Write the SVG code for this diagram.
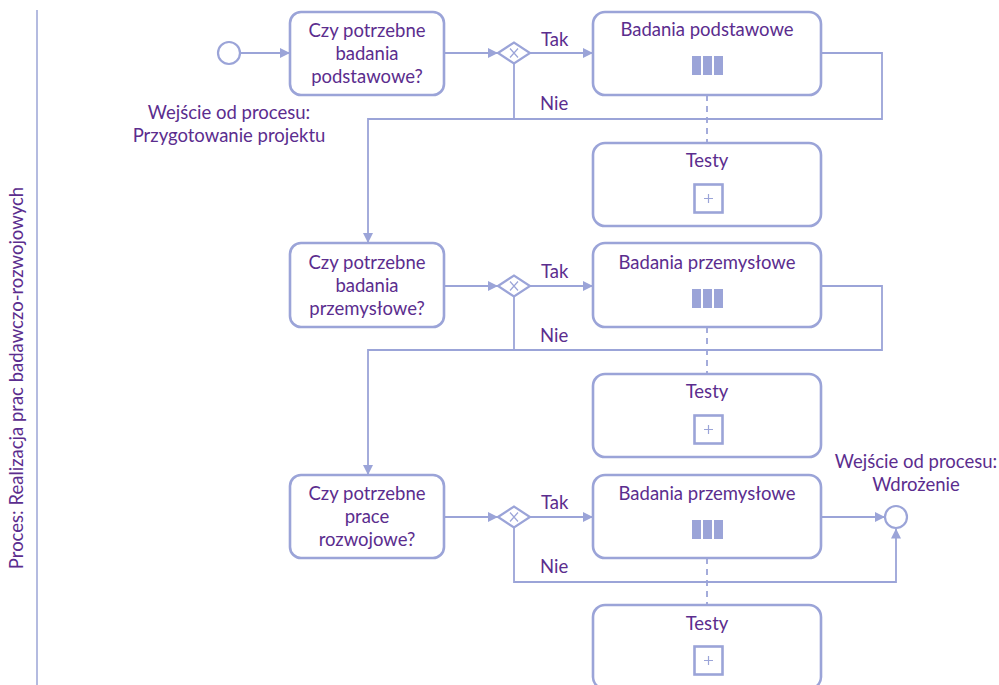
<svg xmlns="http://www.w3.org/2000/svg" width="999" height="685" viewBox="0 0 999 685">
  <defs>
    <marker id="arrow" viewBox="0 0 10 10" refX="10" refY="5" markerWidth="10" markerHeight="10" markerUnits="userSpaceOnUse" orient="auto">
      <path d="M0,0 L10,5 L0,10 Z" fill="#9ba4d8"/>
    </marker>
    <style>
      text { font-family: Lato, "Open Sans", "Liberation Sans", sans-serif; font-size: 18.5px; fill: #5b2d8e; }
      .c { text-anchor: middle; }
      .box { fill: #ffffff; stroke: #9ba4d8; stroke-width: 2.6; }
      .flow { fill: none; stroke: #9ba4d8; stroke-width: 1.8; }
      .assoc { fill: none; stroke: #9ba4d8; stroke-width: 1.8; stroke-dasharray: 6 5; }
      .ev { fill: #ffffff; stroke: #9ba4d8; stroke-width: 2.2; }
      .gw { fill: #ffffff; stroke: #9ba4d8; stroke-width: 2.2; }
      .mark { fill: none; stroke: #9ba4d8; stroke-width: 1.2; }
      .bar { fill: #9ba4d8; }
      .lane { stroke: #b4bbe0; stroke-width: 2; }
    </style>
  </defs>
  <rect width="999" height="685" fill="#ffffff"/>

  <!-- pool lane -->
  <g id="lane">
    <line class="lane" x1="37" y1="10" x2="37" y2="685"/>
    <text class="c" transform="translate(23,378) rotate(-90)">Proces: Realizacja prac badawczo-rozwojowych</text>
  </g>

  <!-- connectors -->
  <g id="connectors">
    <!-- row 1 -->
    <line class="flow" x1="240" y1="53" x2="290" y2="53" marker-end="url(#arrow)"/>
    <line class="flow" x1="444" y1="53" x2="498" y2="53" marker-end="url(#arrow)"/>
    <line class="flow" x1="530" y1="53" x2="593" y2="53" marker-end="url(#arrow)"/>
    <polyline class="flow" points="821,53 882,53 882,119 368,119 368,243" marker-end="url(#arrow)"/>
    <line class="flow" x1="514" y1="63.5" x2="514" y2="119"/>
    <line class="assoc" x1="707" y1="95" x2="707" y2="143"/>
    <!-- row 2 -->
    <line class="flow" x1="444" y1="286" x2="498" y2="286" marker-end="url(#arrow)"/>
    <line class="flow" x1="530" y1="286" x2="593" y2="286" marker-end="url(#arrow)"/>
    <polyline class="flow" points="821,286 882,286 882,350 368,350 368,475" marker-end="url(#arrow)"/>
    <line class="flow" x1="514" y1="296.5" x2="514" y2="350"/>
    <line class="assoc" x1="707" y1="327" x2="707" y2="374"/>
    <!-- row 3 -->
    <line class="flow" x1="444" y1="517" x2="498" y2="517" marker-end="url(#arrow)"/>
    <line class="flow" x1="530" y1="517" x2="593" y2="517" marker-end="url(#arrow)"/>
    <line class="flow" x1="821" y1="517" x2="885" y2="517" marker-end="url(#arrow)"/>
    <polyline class="flow" points="514,527.5 514,582 896,582 896,528.5" marker-end="url(#arrow)"/>
    <line class="assoc" x1="707" y1="558" x2="707" y2="605"/>
    <!-- flow labels -->
    <text x="541" y="46">Tak</text>
    <text x="540" y="110">Nie</text>
    <text x="541" y="278">Tak</text>
    <text x="540" y="342">Nie</text>
    <text x="541" y="509">Tak</text>
    <text x="540" y="573">Nie</text>
  </g>

  <!-- start event -->
  <g id="start">
    <circle class="ev" cx="229" cy="53" r="11"/>
    <text class="c" x="229" y="119">Wejście od procesu:</text>
    <text class="c" x="229" y="142">Przygotowanie projektu</text>
  </g>

  <!-- row 1 -->
  <g id="q1">
    <rect class="box" x="290" y="12" width="154" height="83" rx="11"/>
    <text class="c" x="367" y="37">Czy potrzebne</text>
    <text class="c" x="367" y="60">badania</text>
    <text class="c" x="367" y="83">podstawowe?</text>
  </g>
  <g id="gw1">
    <path class="gw" d="M498,53 L514,42.5 L530,53 L514,63.5 Z"/>
    <path class="mark" d="M510,48.5 L518,57.5 M518,48.5 L510,57.5"/>
  </g>
  <g id="task1">
    <rect class="box" x="593" y="12" width="228" height="83" rx="12"/>
    <text class="c" x="707" y="36">Badania podstawowe</text>
    <rect class="bar" x="692" y="56" width="9" height="19"/>
    <rect class="bar" x="703" y="56" width="9" height="19"/>
    <rect class="bar" x="714" y="56" width="9" height="19"/>
  </g>
  <g id="test1">
    <rect class="box" x="593" y="143" width="228" height="83" rx="12"/>
    <text class="c" x="707" y="167">Testy</text>
    <rect class="box" x="694.5" y="184.5" width="28" height="28" stroke-width="2.2"/>
    <path class="mark" d="M708.5,194 L708.5,203 M704,198.5 L713,198.5"/>
  </g>

  <!-- row 2 -->
  <g id="q2">
    <rect class="box" x="290" y="243" width="154" height="84" rx="11"/>
    <text class="c" x="367" y="269">Czy potrzebne</text>
    <text class="c" x="367" y="292">badania</text>
    <text class="c" x="367" y="315">przemysłowe?</text>
  </g>
  <g id="gw2">
    <path class="gw" d="M498,286 L514,275.5 L530,286 L514,296.5 Z"/>
    <path class="mark" d="M510,281.5 L518,290.5 M518,281.5 L510,290.5"/>
  </g>
  <g id="task2">
    <rect class="box" x="593" y="243" width="228" height="84" rx="12"/>
    <text class="c" x="707" y="269">Badania przemysłowe</text>
    <rect class="bar" x="692" y="289" width="9" height="19"/>
    <rect class="bar" x="703" y="289" width="9" height="19"/>
    <rect class="bar" x="714" y="289" width="9" height="19"/>
  </g>
  <g id="test2">
    <rect class="box" x="593" y="374" width="228" height="83" rx="12"/>
    <text class="c" x="707" y="398">Testy</text>
    <rect class="box" x="694.5" y="415.5" width="28" height="28" stroke-width="2.2"/>
    <path class="mark" d="M708.5,425 L708.5,434 M704,429.5 L713,429.5"/>
  </g>

  <!-- row 3 -->
  <g id="q3">
    <rect class="box" x="290" y="475" width="154" height="83" rx="11"/>
    <text class="c" x="367" y="500">Czy potrzebne</text>
    <text class="c" x="367" y="523">prace</text>
    <text class="c" x="367" y="546">rozwojowe?</text>
  </g>
  <g id="gw3">
    <path class="gw" d="M498,517 L514,506.5 L530,517 L514,527.5 Z"/>
    <path class="mark" d="M510,512.5 L518,521.5 M518,512.5 L510,521.5"/>
  </g>
  <g id="task3">
    <rect class="box" x="593" y="475" width="228" height="83" rx="12"/>
    <text class="c" x="707" y="500">Badania przemysłowe</text>
    <rect class="bar" x="692" y="520" width="9" height="19"/>
    <rect class="bar" x="703" y="520" width="9" height="19"/>
    <rect class="bar" x="714" y="520" width="9" height="19"/>
  </g>
  <g id="test3">
    <rect class="box" x="593" y="605" width="228" height="84" rx="12"/>
    <text class="c" x="707" y="630">Testy</text>
    <rect class="box" x="694.5" y="646.5" width="28" height="28" stroke-width="2.2"/>
    <path class="mark" d="M708.5,656 L708.5,665 M704,660.5 L713,660.5"/>
  </g>

  <!-- end event -->
  <g id="end">
    <circle class="ev" cx="896" cy="517" r="11"/>
    <text class="c" x="916" y="468">Wejście od procesu:</text>
    <text class="c" x="916" y="491">Wdrożenie</text>
  </g>
</svg>
